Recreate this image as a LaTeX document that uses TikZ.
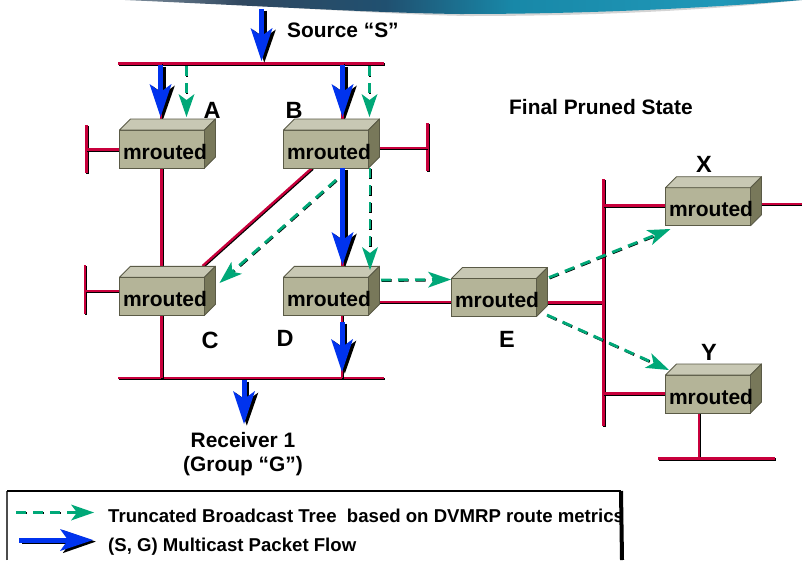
\documentclass[tikz,border=0pt]{standalone}
\usepackage{fontspec}
\setmainfont{Liberation Sans}
\usetikzlibrary{arrows.meta,calc}
\definecolor{wirered}{HTML}{C8003C}
\definecolor{flowblue}{HTML}{0033EE}
\definecolor{flowgreen}{HTML}{00A878}
\definecolor{boxfront}{HTML}{B4B498}
\definecolor{boxtop}{HTML}{C8C8B4}
\definecolor{boxside}{HTML}{78785A}
\definecolor{boxline}{HTML}{5A5A46}
\definecolor{ban1}{HTML}{8A98A4}
\definecolor{ban2}{HTML}{304860}
\definecolor{ban3}{HTML}{205070}
\definecolor{ban4}{HTML}{1888A8}
\definecolor{ban5}{HTML}{2098B8}
\definecolor{ban6}{HTML}{1A7090}
\definecolor{ban7}{HTML}{204858}
\pgfdeclarehorizontalshading{bannershade}{100bp}{
  color(0bp)=(white);
  color(25bp)=(white);
  color(32bp)=(ban1);
  color(40bp)=(ban2);
  color(49bp)=(ban3);
  color(57bp)=(ban4);
  color(70bp)=(ban5);
  color(78bp)=(ban6);
  color(84bp)=(ban7);
  color(100bp)=(ban7)}
\tikzset{
  wireback/.style={draw=black,line width=2.3pt,line cap=butt,transform canvas={xshift=.9pt,yshift=-.9pt}},
  wirefront/.style={draw=wirered,line width=2.4pt,line cap=butt},
  blueback/.style={draw=black,line width=5pt,-{Stealth[length=33pt,width=23pt,inset=8pt,line width=0pt]},transform canvas={xshift=2.8pt,yshift=-1.6pt}},
  bluefront/.style={draw=flowblue,line width=5pt,-{Stealth[length=33pt,width=22pt,inset=8pt,line width=0pt]}},
  greenback/.style={draw=black,line width=2.6pt,dash pattern=on 10pt off 7pt,shorten >=18pt,transform canvas={xshift=.6pt,yshift=-.6pt}},
  greenfront/.style={draw=flowgreen,line width=2.8pt,dash pattern=on 10pt off 7pt,-{Stealth[length=23pt,width=16pt,inset=6pt,line width=0pt]}},
  routerfront/.style={draw=boxline,fill=boxfront,line width=.9pt,minimum width=85pt,minimum height=38pt,inner sep=0pt,outer sep=0pt,anchor=north west},
  routertop/.style={draw=boxline,fill=boxtop,line width=.9pt,line join=round},
  routerside/.style={draw=boxline,fill=boxside,line width=.9pt,line join=round},
  routertext/.style={font=\fontsize{21}{24}\selectfont\bfseries,inner sep=0pt},
  bigletter/.style={font=\fontsize{23.5}{26}\selectfont\bfseries,inner sep=0pt},
  bodylabel/.style={font=\fontsize{20.9}{24}\selectfont\bfseries,inner sep=0pt,align=center},
  legendtext/.style={font=\fontsize{18.6}{22}\selectfont\bfseries,inner sep=0pt,anchor=west}
}
\newcommand{\router}[3]{%
  \node[routerfront] (#1) at (#2,#3) {};
  \path[routertop] (#1.north west) -- ++(11pt,11pt) -- ($(#1.north east)+(11pt,11pt)$) -- (#1.north east) -- cycle;
  \path[routerside] (#1.north east) -- ++(11pt,11pt) -- ($(#1.south east)+(11pt,11pt)$) -- (#1.south east) -- cycle;
  \node[routertext] (#1text) at ([xshift=3pt,yshift=-2.6pt]#1.center) {mrouted};
}
\newcommand{\wire}[2]{\draw[wireback] (#1) -- (#2); \draw[wirefront] (#1) -- (#2);}
\newcommand{\blueflow}[2]{\draw[blueback] (#1) -- (#2); \draw[bluefront] (#1) -- (#2);}
\newcommand{\greenflow}[2]{\draw[greenback] (#1) -- (#2); \draw[greenfront] (#1) -- (#2);}
\begin{document}
\begin{tikzpicture}[x=1pt,y=-1pt]
\useasboundingbox (0,0) rectangle (802,560);
\fill[white] (0,0) rectangle (802,560);
% banner
\fill[black!30,opacity=.55] (150,0) .. controls (300,8) and (400,15) .. (470,16) .. controls (620,16) and (730,8) .. (802,0) -- cycle;
\begin{scope}
\clip (125,0) .. controls (280,7) and (380,13) .. (460,14) .. controls (600,14) and (720,7) .. (802,0) -- cycle;
\shade[shading=bannershade] (0,0) rectangle (802,16);
\end{scope}
% points
\coordinate (s0) at (261.5,9);   \coordinate (s1) at (261.5,61);
\coordinate (tl) at (118,63.5);  \coordinate (tr) at (384,63.5);
\coordinate (tb) at (161,63.5);  \coordinate (tA) at (161,120);
\coordinate (tc) at (342.5,63.5);\coordinate (tB) at (342.5,120);
\coordinate (bl) at (118,378);   \coordinate (br) at (384,378);
\coordinate (bC) at (161.5,378);
\coordinate (aL1) at (86.5,125); \coordinate (aL2) at (86.5,173); \coordinate (aL) at (86.5,149.5); \coordinate (aR) at (119.5,149.5);
\coordinate (bR1) at (427.5,123);\coordinate (bR2) at (427.5,171);\coordinate (bR) at (427.5,148); \coordinate (bL) at (379,148);
\coordinate (cL1) at (85,265);   \coordinate (cL2) at (85,314);   \coordinate (cL) at (85,291);     \coordinate (cR) at (119.5,291);
\coordinate (ac1) at (161.5,168);\coordinate (ac2) at (161.5,266);\coordinate (cb) at (161.5,315);
\coordinate (bc1) at (312,168);  \coordinate (bc2) at (202.5,266);
\coordinate (bd1) at (342.5,168);\coordinate (bd2) at (342.5,266);
\coordinate (db1) at (342,315);  \coordinate (db2) at (342,378);
\coordinate (de1) at (379,302);  \coordinate (de2) at (451.5,302);
\coordinate (ev1) at (547,302.5);\coordinate (ev2) at (603.5,302.5);
\coordinate (v1) at (603.5,179); \coordinate (v2) at (603.5,426);
\coordinate (vx) at (603.5,205.5);\coordinate (xl) at (665.5,205.5);
\coordinate (vy) at (603.5,393.5);\coordinate (yl) at (665.5,393.5);
\coordinate (xr1) at (761,204);  \coordinate (xr2) at (802,204);
\coordinate (y1) at (699,412);   \coordinate (y2) at (699,458.5);
\coordinate (yb1) at (658,458.5);\coordinate (yb2) at (775,458.5);
% wires
\wire{tl}{tr} \wire{tb}{tA} \wire{tc}{tB}
\wire{bl}{br}
\wire{aL1}{aL2} \wire{aL}{aR}
\wire{bR1}{bR2} \wire{bL}{bR}
\wire{cL1}{cL2} \wire{cL}{cR}
\wire{ac1}{ac2} \wire{cb}{bC}
\wire{bc1}{bc2}
\wire{bd1}{bd2} \wire{db1}{db2}
\wire{de1}{de2} \wire{ev1}{ev2}
\wire{v1}{v2} \wire{vx}{xl} \wire{vy}{yl} \wire{xr1}{xr2}
\wire{y1}{y2} \wire{yb1}{yb2}
% routers
\router{A}{119.5}{130}
\router{B}{283.5}{130}
\router{C}{119.5}{277.3}
\router{D}{283.5}{277.3}
\router{E}{451.5}{278.5}
\router{X}{665.5}{187.7}
\router{Y}{665.5}{375}
% blue flows
\coordinate (fA0) at (160.5,65);  \coordinate (fA1) at (160.5,117);
\coordinate (fB0) at (342.5,65);  \coordinate (fB1) at (342.5,117);
\coordinate (fD0) at (342.5,168); \coordinate (fD1) at (342.5,265);
\coordinate (fE0) at (342,322);   \coordinate (fE1) at (342,372);
\coordinate (fR0) at (244,380);   \coordinate (fR1) at (244,424);
\blueflow{s0}{s1}
\blueflow{fA0}{fA1}
\blueflow{fB0}{fB1}
\blueflow{fD0}{fD1}
\blueflow{fE0}{fE1}
\blueflow{fR0}{fR1}
% green flows
\coordinate (gA0) at (186.5,66);  \coordinate (gA1) at (186.5,117);
\coordinate (gB0) at (369.5,66);  \coordinate (gB1) at (369.5,117);
\coordinate (gD0) at (370,168);   \coordinate (gD1) at (370,270);
\coordinate (gC0) at (336,180);   \coordinate (gC1) at (219.5,283);
\coordinate (gE0) at (381,280);   \coordinate (gE1) at (451,279.5);
\coordinate (gX0) at (549,277.5); \coordinate (gX1) at (670.5,229);
\coordinate (gY0) at (547,315);   \coordinate (gY1) at (669,370);
\greenflow{gA0}{gA1}
\greenflow{gB0}{gB1}
\greenflow{gD0}{gD1}
\greenflow{gC0}{gC1}
\greenflow{gE0}{gE1}
\greenflow{gX0}{gX1}
\greenflow{gY0}{gY1}
% labels
\node[bodylabel,anchor=west] (srclabel) at (287,30) {Source “S”};
\node[bodylabel,anchor=west] (finallabel) at (509,107) {Final Pruned State};
\node[bodylabel] (rxlabel) at (243,454.5) {Receiver 1\\(Group “G”)};
\node[bigletter] (la) at (212,110) {A};
\node[bigletter] (lb) at (294,110) {B};
\node[bigletter] (lc) at (210,340) {C};
\node[bigletter] (ld) at (285,338) {D};
\node[bigletter] (le) at (507,339) {E};
\node[bigletter] (lx) at (704,164) {X};
\node[bigletter] (ly) at (709,352) {Y};
% legend
\coordinate (lgTL) at (7,491); \coordinate (lgBL) at (7,560);
\coordinate (lgTR) at (621,491); \coordinate (lgBR) at (622,560);
\draw[black!70,line width=1.4pt] (lgBL) -- (lgTL);
\draw[black,line width=1.4pt] (lgTL) -- (lgTR);
\node[legendtext] (lt1) at (108,516) {Truncated Broadcast Tree\ \ based on DVMRP route metrics};
\node[legendtext] (lt2) at (108,547) {(S, G) Multicast Packet Flow};
\draw[black,line width=4pt] (lgTR) -- (lgBR);
\coordinate (lg0) at (16,512.5); \coordinate (lg1) at (94,512.5);
\coordinate (lb0) at (19,540);   \coordinate (lb1) at (93,540);
\greenflow{lg0}{lg1}
\blueflow{lb0}{lb1}
\end{tikzpicture}
\end{document}
